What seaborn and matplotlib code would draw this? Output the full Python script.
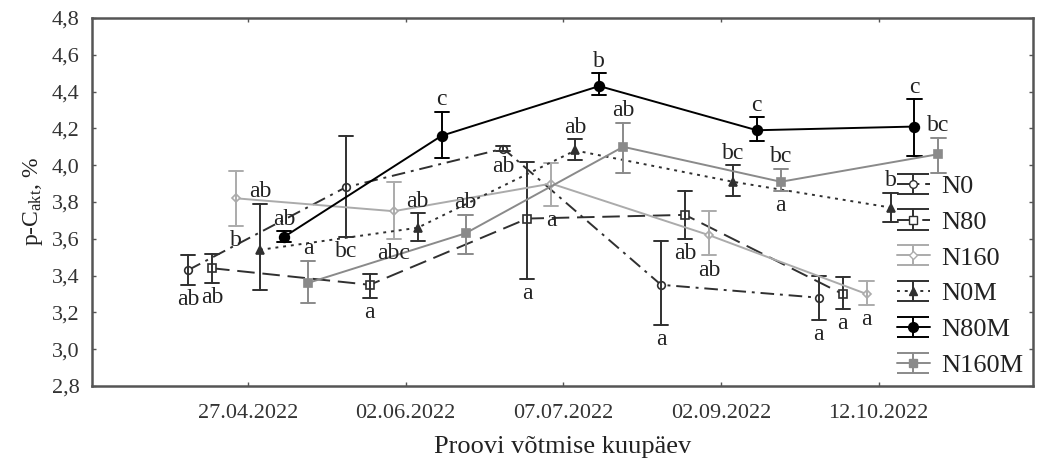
import numpy as np
import pandas as pd
import matplotlib
matplotlib.use("Agg")
import matplotlib.pyplot as plt
import seaborn as sns
from matplotlib.container import ErrorbarContainer
from matplotlib.legend_handler import HandlerErrorbar

# ---------------- data ----------------
dates = ["27.04.2022", "02.06.2022", "07.07.2022", "02.09.2022", "12.10.2022"]
series = ["N0", "N80", "N160", "N0M", "N80M", "N160M"]

n0_mean = [3.43, 3.88, 4.09, 3.35, 3.28]
n0_low = [3.35, 3.61, 4.075, 3.13, 3.16]
n0_high = [3.51, 4.16, 4.105, 3.59, 3.40]

n80_mean = [3.44, 3.35, 3.71, 3.73, 3.30]
n80_low = [3.36, 3.28, 3.38, 3.60, 3.22]
n80_high = [3.52, 3.41, 4.02, 3.86, 3.39]

n160_mean = [3.82, 3.75, 3.90, 3.62, 3.30]
n160_low = [3.67, 3.60, 3.78, 3.51, 3.24]
n160_high = [3.97, 3.91, 4.01, 3.75, 3.37]

n0m_mean = [3.54, 3.66, 4.08, 3.91, 3.77]
n0m_low = [3.32, 3.59, 4.03, 3.83, 3.69]
n0m_high = [3.79, 3.74, 4.14, 4.00, 3.85]

n80m_mean = [3.61, 4.16, 4.43, 4.19, 4.21]
n80m_low = [3.58, 4.04, 4.38, 4.13, 4.05]
n80m_high = [3.64, 4.29, 4.50, 4.26, 4.36]

n160m_mean = [3.36, 3.63, 4.10, 3.91, 4.06]
n160m_low = [3.25, 3.52, 3.96, 3.86, 3.96]
n160m_high = [3.48, 3.73, 4.23, 3.98, 4.15]

# significance letters (above / below the error bar)
n0_above = ["", "", "", "", ""]
n0_below = ["ab", "bc", "ab", "a", "a"]
n80_above = ["", "", "", "", ""]
n80_below = ["ab", "a", "a", "ab", "a"]
n160_above = ["", "", "", "", ""]
n160_below = ["b", "abc", "a", "ab", "a"]
n0m_above = ["ab", "ab", "ab", "bc", "b"]
n0m_below = ["", "", "", "", ""]
n80m_above = ["ab", "c", "b", "c", "c"]
n80m_below = ["", "", "", "", ""]
n160m_above = ["a", "ab", "ab", "bc", "bc"]
n160m_below = ["", "", "", "a", ""]

y_ticks = [2.8, 3.0, 3.2, 3.4, 3.6, 3.8, 4.0, 4.2, 4.4, 4.6, 4.8]
y_tick_labels = ["2,8", "3,0", "3,2", "3,4", "3,6", "3,8", "4,0", "4,2", "4,4", "4,6", "4,8"]

means = [n0_mean, n80_mean, n160_mean, n0m_mean, n80m_mean, n160m_mean]
lows = [n0_low, n80_low, n160_low, n0m_low, n80m_low, n160m_low]
highs = [n0_high, n80_high, n160_high, n0m_high, n80m_high, n160m_high]
aboves = [n0_above, n80_above, n160_above, n0m_above, n80m_above, n160m_above]
belows = [n0_below, n80_below, n160_below, n0m_below, n80m_below, n160m_below]

# long table: low / mean / high per cell -> median = mean, 100% interval = low..high
rows = []
for s, m, lo, hi in zip(series, means, lows, highs):
    for d, a, b, c in zip(dates, m, lo, hi):
        for v in (b, a, c):
            rows.append({"date": d, "series": s, "value": v})
df = pd.DataFrame(rows)

# ---------------- style ----------------
sns.set_theme(style="ticks")
plt.rcParams["font.family"] = ["Liberation Serif", "DejaVu Serif"]
plt.rcParams["mathtext.fontset"] = "custom"
plt.rcParams["mathtext.rm"] = "Liberation Serif"
plt.rcParams["mathtext.it"] = "Liberation Serif:italic"

colors = ["#303030", "#303030", "#ababab", "#303030", "#000000", "#8a8a8a"]
markers = ["o", "s", "D", "^", "o", "s"]
linestyles = [(0, (7, 3, 1.5, 3)), (0, (9, 4)), "-", (0, (1.5, 2.5)), "-", "-"]
open_face = [True, True, True, False, False, False]
msizes = [5.5, 6, 4.5, 6, 7, 6]
txt_color = "#222222"

fig = plt.figure(figsize=(10.37, 4.66), dpi=100)
ax = fig.add_axes([92 / 1037, 1 - 386 / 466, (1033 - 92) / 1037, 368 / 466])

sns.pointplot(
    data=df, x="date", y="value", hue="series", order=dates, hue_order=series,
    estimator=np.median, errorbar=("pi", 100), dodge=0.76,
    markers=markers, linestyles=linestyles, palette=colors,
    capsize=0.09, err_kws={"linewidth": 1.4}, linewidth=1.4,
    legend=False, ax=ax,
)

mark_lines = [l for l in ax.lines if l.get_marker() not in (None, "None", "", " ")]
for i, ln in enumerate(mark_lines[:len(series)]):
    ln.set_markersize(msizes[i])
    ln.set_markeredgewidth(1.2)
    if open_face[i]:
        ln.set_markerfacecolor("white")
    if series[i] == "N80M":
        ln.set_zorder(5)

# letters
for i, ln in enumerate(mark_lines[:len(series)]):
    xs = ln.get_xdata()
    for j, x in enumerate(xs):
        if aboves[i][j]:
            ax.annotate(aboves[i][j], xy=(x, highs[i][j]), xytext=(0, 1),
                        textcoords="offset points", ha="center", va="bottom",
                        fontsize=17, color=txt_color)
        if belows[i][j]:
            ax.annotate(belows[i][j], xy=(x, lows[i][j]), xytext=(0, -3),
                        textcoords="offset points", ha="center", va="top",
                        fontsize=17, color=txt_color)

ax.set_xlim(-0.99, 4.98)
ax.set_ylim(2.8, 4.8)
ax.set_yticks(y_ticks)
ax.set_yticklabels(y_tick_labels)
ax.tick_params(direction="in", length=3, width=1, colors="#555555", top=True, right=True,
               labelsize=16, labelcolor="#333333", pad=9)
ax.tick_params(axis="x", pad=13)
for sp in ax.spines.values():
    sp.set_color("#555555")
    sp.set_linewidth(1.8)

ax.set_xlabel("Proovi võtmise kuupäev", fontsize=19, color="#222222", labelpad=9)
ax.set_ylabel(r"p-C$_{\mathrm{akt}}$, %", fontsize=17, color="#222222", labelpad=5)

# legend with error-bar style handles
handles = []
for i, s in enumerate(series):
    h = ax.errorbar([np.nan], [np.nan], yerr=[[0.1], [0.1]], marker=markers[i],
                    linestyle=linestyles[i], color=colors[i], capsize=11.5,
                    markersize=msizes[i], markerfacecolor="white" if open_face[i] else colors[i],
                    elinewidth=1.4, linewidth=1.4, capthick=1.4)
    handles.append(h)
ax.legend(handles, series, handler_map={ErrorbarContainer: HandlerErrorbar(yerr_size=0.38)},
          loc="upper left", bbox_to_anchor=(0.855, 0.575), frameon=False, fontsize=19,
          handlelength=1.25, handletextpad=0.45, labelspacing=0.47, borderaxespad=0,
          borderpad=0, numpoints=1, labelcolor="#222222")

fig.savefig("out.png", dpi=100)
